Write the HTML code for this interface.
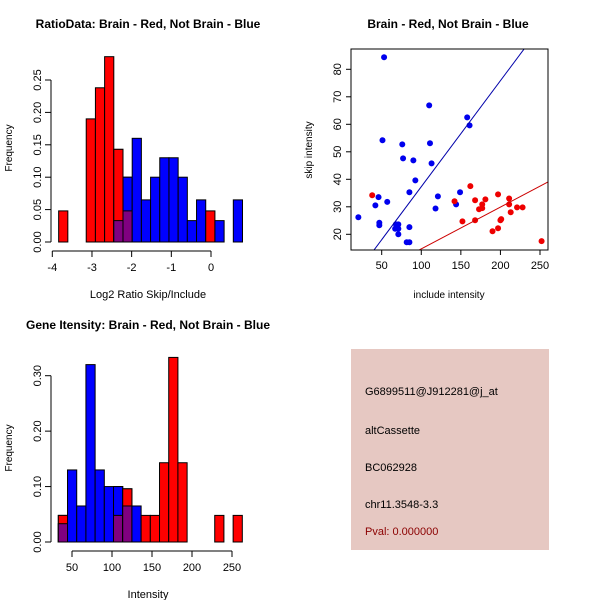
<!DOCTYPE html>
<html><head><meta charset="utf-8"><style>
body{margin:0;background:#fff}
svg{display:block;font-family:"Liberation Sans",Arial,sans-serif}
</style></head><body>
<svg id="s" width="600" height="600" viewBox="0 0 600 600" xmlns="http://www.w3.org/2000/svg">
<rect width="600" height="600" fill="#fff"/>
<g id="p1"></g>
<g id="p2"></g>
<g id="p3"></g>
<g>
<rect x="351" y="349" width="198" height="201" fill="#e6c8c2"/>
<text x="365" y="395" font-size="11" fill="#000">G6899511@J912281@j_at</text>
<text x="365" y="434" font-size="11" fill="#000">altCassette</text>
<text x="365" y="471" font-size="11" fill="#000">BC062928</text>
<text x="365" y="508" font-size="11" fill="#000">chr11.3548-3.3</text>
<text x="365" y="535" font-size="11" fill="#8b0000">Pval: 0.000000</text>
</g>
</svg>
<script>
const NS="http://www.w3.org/2000/svg";
// ---- data ----
const ratioStart=-3.84, ratioBinW=0.2317;
const ratioRed=[0.048,0,0,0.19,0.238,0.286,0.143,0.048,0,0,0,0,0,0,0,0,0.048,0,0,0];
const ratioBlue=[0,0,0,0,0,0,0.033,0.1,0.16,0.065,0.1,0.13,0.13,0.1,0.033,0.065,0,0.033,0,0.065];
const ratioXTicks=[-4,-3,-2,-1,0];
const ratioYTicks=[0,0.05,0.10,0.15,0.20,0.25];
const intStart=32.9, intBinW=11.5;
const intRed=[0.048,0,0,0,0,0,0.048,0.096,0,0.048,0.048,0.143,0.333,0.143,0,0,0,0.048,0,0.048];
const intBlue=[0.033,0.13,0.065,0.32,0.13,0.1,0.1,0.065,0.065,0,0,0,0,0,0,0,0,0,0,0];
const intXTicks=[50,100,150,200,250];
const intYTicks=[0,0.10,0.20,0.30];
const blueX=[20.5,53,51,46,42,47,47,57,76,77,90,92.5,85,68,71,67,71,71,81.6,85,85,110,111,113,121,118,144,149,158,161];
const blueY=[26.2,84.4,54.2,33.5,30.5,24.2,23.3,31.8,52.7,47.6,46.9,39.6,35.3,23.6,23.6,22,22,20,17.1,17.1,22.6,66.9,53.1,45.8,33.8,29.4,30.9,35.3,62.5,59.6];
const redX=[38,142,152,162,168,168,173,177,177,181,190,197,197,200,201,211,211,213,221,228,252];
const redY=[34.2,32,24.7,37.5,32.4,25.1,29.1,30.9,29.5,32.7,21.1,34.5,22.2,25.1,25.5,33,30.9,28,29.8,29.8,17.5];
const blueFit=[-1.24,0.3855];
const redFit=[-0.5,0.152];
const scXTicks=[50,100,150,200,250];
const scYTicks=[20,30,40,50,60,70,80];

function el(parent,tag,attrs,txt){const e=document.createElementNS(NS,tag);for(const k in attrs)e.setAttribute(k,attrs[k]);if(txt!==undefined)e.textContent=txt;parent.appendChild(e);return e;}
function lin(d0,d1,p0,p1){return v=>p0+(v-d0)*(p1-p0)/(d1-d0);}
function fmt(v,d){return v.toFixed(d);}

function title(g,x,y,t){const e=el(g,'text',{x:x,y:y,'font-size':12,'font-weight':'bold','text-anchor':'middle'},t);

}

function hist(g,start,bw,red,blue,xs,ys,xt,yt,yd,xlab,ttl,ty,ylabY){
  title(g,148,ty,ttl);
  const base=ys(0);
  for(let i=0;i<red.length;i++){
    const x0=xs(start+i*bw),x1=xs(start+(i+1)*bw);
    const r=red[i],b=blue[i];
    if(r>0){const e=el(g,'rect',{x:x0,y:ys(r),width:x1-x0,height:base-ys(r),fill:'#ff0000',stroke:'#000','stroke-width':1});
      
      }
    if(b>0){const e=el(g,'rect',{x:x0,y:ys(b),width:x1-x0,height:base-ys(b),fill:'#0000ff',stroke:'#000','stroke-width':1});
      
      }
    if(r>0&&b>0){
      const m=Math.min(r,b),t=Math.max(r,b);
      const col=r>b?'#ff0000':'#0000ff';
      const e1=el(g,'rect',{x:x0,y:ys(t),width:x1-x0,height:base-ys(t),fill:col,stroke:'#000','stroke-width':1});
      
      
      const e=el(g,'rect',{x:x0,y:ys(m),width:x1-x0,height:base-ys(m),fill:'#800080',stroke:'#000','stroke-width':1});
      
      }
  }
  const ay=base+9;
  const xa=el(g,'g',{});
  
  
  el(xa,'line',{x1:xs(xt[0]),x2:xs(xt[xt.length-1]),y1:ay,y2:ay,stroke:'#000'});
  xt.forEach(v=>{el(xa,'line',{x1:xs(v),x2:xs(v),y1:ay,y2:ay+6,stroke:'#000'});
    el(xa,'text',{x:xs(v),y:ay+20,'font-size':11,'text-anchor':'middle'},String(v));});
  const xl=el(g,'text',{x:148,y:base+56,'font-size':11,'text-anchor':'middle'},xlab);
  
  
  const ya=el(g,'g',{});
  
  
  const ax=51;
  el(ya,'line',{x1:ax,x2:ax,y1:ys(yt[0]),y2:ys(yt[yt.length-1]),stroke:'#000'});
  yt.forEach(v=>{el(ya,'line',{x1:ax-6,x2:ax,y1:ys(v),y2:ys(v),stroke:'#000'});
    const y=ys(v);el(ya,'text',{x:ax-10,y:y,'font-size':11,'text-anchor':'middle',transform:`rotate(-90 ${ax-10} ${y})`},fmt(v,yd));});
  const yl=el(g,'text',{x:12,y:ylabY,'font-size':10,'text-anchor':'middle',transform:`rotate(-90 12 ${ylabY})`},'Frequency');
  
  
}

hist(document.getElementById('p1'),ratioStart,ratioBinW,ratioRed,ratioBlue,
  lin(-4,0,52.3,211),lin(0,0.25,242,80),ratioXTicks,ratioYTicks,2,'Log2 Ratio Skip/Include',
  'RatioData: Brain - Red, Not Brain - Blue',28,148);
hist(document.getElementById('p3'),intStart,intBinW,intRed,intBlue,
  lin(50,250,72,232),lin(0,0.3,542,375.7),intXTicks,intYTicks,2,'Intensity',
  'Gene Itensity: Brain - Red, Not Brain - Blue',329,448);

(function(){
  const g=document.getElementById('p2');
  const xs=lin(50,250,381.7,540),ys=lin(20,80,234.3,69.3);
  const L=351,R=548,T=49,B=250;
  title(g,448,28,'Brain - Red, Not Brain - Blue');
  const clip=el(g,'clipPath',{id:'c2'});el(clip,'rect',{x:L,y:T,width:R-L,height:B-T});
  const fits=[[blueFit,'#0000aa','fit-line-blue'],[redFit,'#cc0000','fit-line-red']];
  const pts=[[blueX,blueY,'#0000ee','point-blue'],[redX,redY,'#ee0000','point-red']];
  pts.forEach(([X,Y,c,n])=>{for(let i=0;i<X.length;i++){const e=el(g,'circle',{cx:xs(X[i]),cy:ys(Y[i]),r:3,fill:c});
    
    }});
  fits.forEach(([f,c,n])=>{const x0=0,x1=300;const e=el(g,'line',{x1:xs(x0),y1:ys(f[0]+f[1]*x0),x2:xs(x1),y2:ys(f[0]+f[1]*x1),stroke:c,'stroke-width':1,'clip-path':'url(#c2)'});
    
    });
  const bx=el(g,'rect',{x:L,y:T,width:R-L,height:B-T,fill:'none',stroke:'#000'});
  
  
  const xa=el(g,'g',{});
  
  
  scXTicks.forEach(v=>{el(xa,'line',{x1:xs(v),x2:xs(v),y1:B,y2:B+5,stroke:'#000'});
    el(xa,'text',{x:xs(v),y:B+19,'font-size':11,'text-anchor':'middle'},String(v));});
  const ya=el(g,'g',{});
  
  
  scYTicks.forEach(v=>{const y=ys(v);el(ya,'line',{x1:L-5,x2:L,y1:y,y2:y,stroke:'#000'});
    el(ya,'text',{x:L-10,y:y,'font-size':11,'text-anchor':'middle',transform:`rotate(-90 ${L-10} ${y})`},String(v));});
  const xl=el(g,'text',{x:449,y:298,'font-size':10,'text-anchor':'middle'},'include intensity');
  
  
  const yl=el(g,'text',{x:312,y:150,'font-size':10,'text-anchor':'middle',transform:'rotate(-90 312 150)'},'skip intensity');
  
  
})();
</script>
</body></html>
